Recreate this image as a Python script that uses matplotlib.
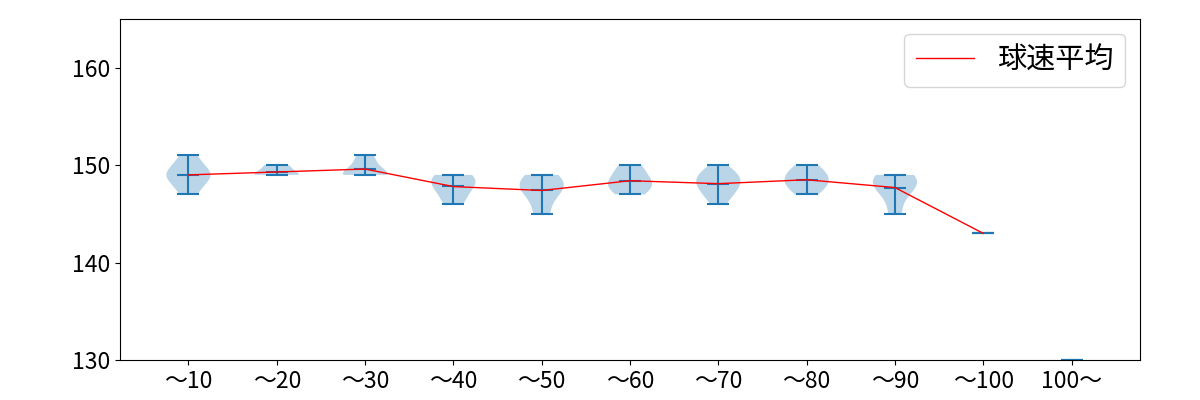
import matplotlib
matplotlib.use("Agg")
import matplotlib.pyplot as plt

plt.rcParams['font.family'] = ['Noto Sans CJK JP', 'DejaVu Sans']

# pitch-count bins and ball speeds (km/h) per bin
labels = ["〜10", "〜20", "〜30", "〜40", "〜50", "〜60", "〜70", "〜80", "〜90", "〜100", "100〜"]
speeds = [
    [147, 148, 149, 149, 149, 150, 151],
    [149, 149, 150],
    [149, 149, 149, 150, 151],
    [146, 147, 148, 148, 149, 149],
    [145, 147, 148, 148, 149],
    [147, 148, 148, 149, 150],
    [146, 147, 147, 148, 148, 148, 149, 149, 149, 150],
    [147, 148, 148, 149, 149, 150],
    [145, 147, 148, 148, 149, 149],
    [143],
    [130],
]
mean_speed = [149.0, 149.3, 149.6, 147.8, 147.4, 148.4, 148.1, 148.5, 147.7, 143.0]

fig, ax = plt.subplots(figsize=(12, 4), dpi=100)
fig.subplots_adjust(left=0.1, right=0.95, bottom=0.1, top=0.9525)

positions = list(range(1, len(labels) + 1))
ax.violinplot(speeds, positions=positions, showmeans=True, showextrema=True)
ax.plot(positions[:len(mean_speed)], mean_speed, color="red", linewidth=1, label="球速平均")

ax.set_xticks(positions)
ax.set_xticklabels(labels)
ax.set_ylim(130, 165)
ax.set_yticks([130, 140, 150, 160])
ax.tick_params(labelsize=16.5)
ax.legend(loc="upper right", fontsize=21)

fig.savefig("out.png")
